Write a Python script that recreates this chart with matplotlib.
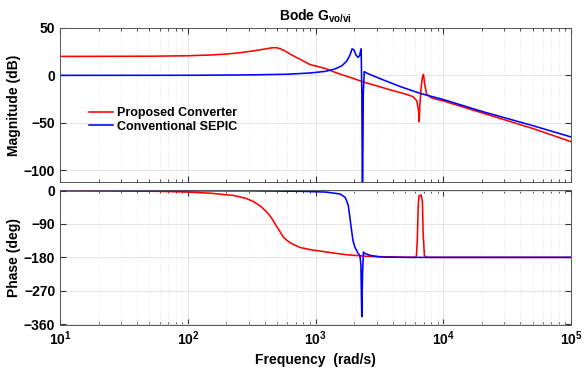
import matplotlib
matplotlib.use("Agg")
import matplotlib.pyplot as plt
from matplotlib.ticker import LogLocator, NullFormatter

plt.rcParams['font.family'] = ['Liberation Sans', 'DejaVu Sans']
plt.rcParams['font.weight'] = 'bold'
plt.rcParams['mathtext.fontset'] = 'custom'
plt.rcParams['mathtext.rm'] = 'Liberation Sans:bold'
plt.rcParams['mathtext.bf'] = 'Liberation Sans:bold'
plt.rcParams['mathtext.default'] = 'bf'

# values (frequency in rad/s)
red_mag_w = [10, 50, 100, 150, 200, 260, 324, 400, 450, 490, 530, 580, 650, 750, 900,
             1186, 1500, 2000, 2356, 3000, 4000, 5000, 5800, 6200, 6400, 6460, 6550,
             6700, 6850, 6980, 7150, 7400, 8000, 9000, 10000, 20000, 50000, 100000]
red_mag_db = [20, 20.2, 20.7, 21.5, 22.5, 24, 25.8, 27.8, 29, 29.3, 28, 25.5, 21.5, 17.2, 11.5,
              7.3, 2, -3.5, -7, -11, -16, -19.5, -22.5, -27, -38, -49, -30,
              -12, -2, 1, -10, -20, -23.5, -25.5, -27, -39.5, -56, -70]

blue_mag_w = [10, 100, 300, 600, 900, 1186, 1400, 1600, 1750, 1850, 1930, 1990, 2080,
              2150, 2210, 2250, 2270, 2300, 2325, 2360, 2400, 2500, 3200, 4590, 6580,
              10000, 20000, 50000, 100000]
blue_mag_db = [0, 0.1, 0.5, 1.2, 2.5, 4.2, 6.5, 10, 15, 21, 28, 27, 21,
               19, 21, 26, 28, -20, -140, -20, 4, 2.5, -3.5, -11.8, -19,
               -25.5, -38, -53, -65]

red_ph_w = [10, 30, 60, 100, 150, 226, 280, 324, 370, 415, 450, 480, 520, 557, 600, 650,
            750, 900, 1080, 1500, 1760, 2500, 4000, 6000, 6150, 6250, 6350, 6450, 6700,
            6850, 6950, 7100, 7400, 10000, 100000]
red_ph_deg = [0, -1, -2, -4, -7, -13, -20, -29, -42, -58, -73, -89, -108, -125, -135, -143,
              -153, -159, -163, -170, -173, -177, -179, -180, -176, -130, -40, -14, -12,
              -30, -120, -175, -180, -180, -180]

blue_ph_w = [10, 300, 800, 1200, 1550, 1700, 1750, 1800, 1850, 1910, 1960, 2025, 2140,
             2220, 2260, 2296, 2330, 2365, 2450, 2700, 3200, 5000, 100000]
blue_ph_deg = [0, -0.5, -2, -4, -9, -18, -28, -40, -70, -107, -135, -152, -168,
               -175, -200, -340, -220, -166, -170, -175, -179, -180, -180]

series_names = ['Proposed Converter', 'Conventional SEPIC']
decade_ticks = [1e1, 1e2, 1e3, 1e4, 1e5]
decade_labels = [r'$10^{1}$', r'$10^{2}$', r'$10^{3}$', r'$10^{4}$', r'$10^{5}$']

fig = plt.figure(figsize=(5.84, 3.73), dpi=100)
ax1 = fig.add_axes([0.103, 0.512, 0.875, 0.413])
ax2 = fig.add_axes([0.103, 0.129, 0.875, 0.362])

ax1.plot(red_mag_w, red_mag_db, color='red', lw=1.15, label=series_names[0])
ax1.plot(blue_mag_w, blue_mag_db, color='blue', lw=1.15, label=series_names[1])
ax2.plot(red_ph_w, red_ph_deg, color='red', lw=1.15)
ax2.plot(blue_ph_w, blue_ph_deg, color='blue', lw=1.15)

for ax in (ax1, ax2):
    ax.set_xscale('log')
    ax.set_xlim(10, 1e5)
    ax.set_xticks(decade_ticks)
    ax.xaxis.set_minor_locator(LogLocator(base=10, subs=range(2, 10), numticks=20))
    ax.xaxis.set_minor_formatter(NullFormatter())
    ax.grid(True, which='major', color='#e0e0e0', lw=0.6)
    ax.grid(True, which='minor', axis='x', color='#e0e0e0', lw=0.5, ls=':')
    ax.set_axisbelow(True)
    ax.tick_params(which='both', direction='in', top=True, right=True,
                   labelsize=10, colors='#333333', labelcolor='black')
    ax.tick_params(which='major', length=4)
    ax.tick_params(which='minor', length=2)
    for s in ax.spines.values():
        s.set_color('#555555')
        s.set_linewidth(0.7)

ax1.set_ylim(-112.5, 50)
ax1.set_yticks([50, 0, -50, -100])
ax1.set_xticklabels([])
ax1.set_ylabel('Magnitude (dB)', fontsize=10, fontweight='bold', labelpad=2)
ax1.set_title(r'Bode G$_{vo/vi}$', fontsize=10, fontweight='bold', pad=5)
ax1.legend(loc='upper left', bbox_to_anchor=(0.045, 0.525), frameon=False,
           fontsize=9, handlelength=1.9, handletextpad=0.3, labelspacing=0.1,
           borderpad=0)

ax2.set_ylim(-362, 2)
ax2.set_yticks([0, -90, -180, -270, -360])
ax2.set_xticklabels(decade_labels)
ax2.set_ylabel('Phase (deg)', fontsize=10, fontweight='bold', labelpad=2)
ax2.set_xlabel('Frequency  (rad/s)', fontsize=10, fontweight='bold', labelpad=3)

fig.savefig('out.png', dpi=100)
